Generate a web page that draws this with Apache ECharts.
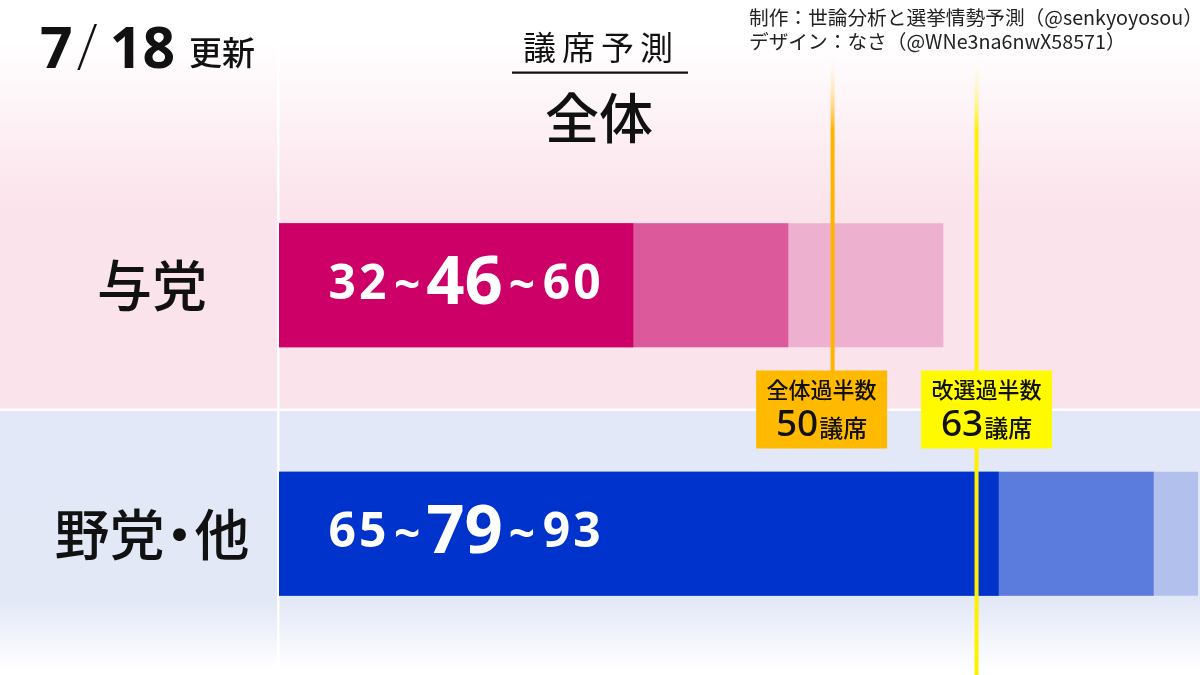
<!DOCTYPE html>
<html>
<head>
<meta charset="utf-8">
<script src="https://cdn.jsdelivr.net/npm/echarts@6/dist/echarts.min.js"></script>
<style>
html,body{margin:0;padding:0;background:#fff;}
#chart{width:1200px;height:675px;}
</style>
</head>
<body>
<div id="chart"></div>
<script>
// ---- data ----
const categories = ['与党', '野党・他'];
const lowSeats = [32, 65];
const midSeats = [46, 79];
const highSeats = [60, 93];
const thresholds = [50, 63];
const thresholdNames = ['全体過半数', '改選過半数'];
const thresholdUnit = '議席';
const updateDate = ['7', '18'];

// ---- styles ----
const darkColors = ['#CC0066', '#0033CC'];
const midColors = ['#DC5A9B', '#5B7BDD'];
const lightColors = ['#EDB0CF', '#B2C0EE'];
const lineColors = ['#FFB400', '#FFF000'];
const boxColors = ['#FFBA00', '#FFFA00'];
const boxOffsets = [-11, 10];
const lineBottoms = [371, 675];
const JP = '"Noto Sans CJK JP", "Noto Sans", sans-serif';
const NUM = '"Noto Sans", "Noto Sans CJK JP", sans-serif';

const chart = echarts.init(document.getElementById('chart'));

function spaced(str, style) {
  return str.split('').map(c => '{' + style + '|' + c + '}').join('');
}

function barLabel(p) {
  const i = p.dataIndex;
  return spaced(String(lowSeats[i]), 's') + '{t|~}' +
         spaced(String(midSeats[i]), 'b') + '{t|~}' +
         spaced(String(highSeats[i]), 's');
}

function catLabel(v) {
  return v.split('').map(c => c === '・' ? '{dot|・}' : '{c|' + c + '}').join('');
}

const bgElements = [
  { type: 'rect', z: -10, shape: { x: 0, y: 0, width: 1200, height: 410 },
    style: { fill: { type: 'linear', x: 0, y: 0, x2: 0, y2: 1,
      colorStops: [{ offset: 0, color: '#ffffff' }, { offset: 0.1, color: '#ffffff' },
                   { offset: 0.5, color: '#FBE3EC' }, { offset: 1, color: '#FBE3EC' }] } } },
  { type: 'rect', z: -10, shape: { x: 0, y: 410, width: 1200, height: 265 },
    style: { fill: { type: 'linear', x: 0, y: 0, x2: 0, y2: 1,
      colorStops: [{ offset: 0, color: '#E2E8F7' }, { offset: 0.72, color: '#E3E8F7' },
                   { offset: 0.98, color: '#ffffff' }, { offset: 1, color: '#ffffff' }] } } },
  { type: 'rect', z: -9, shape: { x: 0, y: 408.5, width: 1200, height: 2.5 }, style: { fill: '#ffffff' } },
  { type: 'rect', z: -9, shape: { x: 277, y: 0, width: 2.5, height: 675 }, style: { fill: '#ffffff' } },
  // date
  { type: 'text', z: 20, style: {
      x: 40, y: 52, verticalAlign: 'middle',
      text: '{d|' + updateDate[0] + '}{sl|/}{d|' + updateDate[1] + '}{u|更新}',
      rich: {
        d: { fontFamily: NUM, fontSize: 57, fontWeight: 700, fill: '#111' },
        sl: { fontFamily: NUM, fontSize: 64, fontWeight: 200, fill: '#111', padding: [0, 12, 0, 4] },
        u: { fontFamily: JP, fontSize: 33, fontWeight: 500, fill: '#111', padding: [0, 0, 0, 14] }
      } } },
  // header
  { type: 'text', z: 20, style: {
      x: 598, y: 47, align: 'center', verticalAlign: 'middle',
      text: spaced('議席予測', 'h'),
      rich: { h: { fontFamily: JP, fontSize: 33, fontWeight: 400, fill: '#111', padding: [0, 3] } } } },
  { type: 'rect', z: 20, shape: { x: 512, y: 71.5, width: 176, height: 2.2 }, style: { fill: '#111' } },
  { type: 'text', z: 20, style: {
      x: 599, y: 118, align: 'center', verticalAlign: 'middle',
      text: '全体', fontFamily: JP, fontSize: 54, fontWeight: 500, fill: '#111' } },
  // credits
  { type: 'text', z: 20, style: {
      x: 749, y: 18, verticalAlign: 'middle',
      text: '制作：世論分析と選挙情勢予測（@senkyoyosou）', fontFamily: JP, fontSize: 19.7, fill: '#222' } },
  { type: 'text', z: 20, style: {
      x: 749, y: 42, verticalAlign: 'middle',
      text: 'デザイン：なさ（@WNe3na6nwX58571）', fontFamily: JP, fontSize: 19.7, fill: '#222' } }
];

function barSeries(name, values, colors, z, withLabel) {
  return {
    type: 'bar', name: name, data: values, barWidth: 124, barGap: '-100%', z: z,
    clip: true, silent: true,
    itemStyle: { color: p => colors[p.dataIndex] },
    label: withLabel ? {
      show: true, position: 'insideLeft', distance: 48,
      formatter: barLabel,
      rich: {
        s: { fontFamily: NUM, fontSize: 48, fontWeight: 700, color: '#fff', padding: [0, 1.5] },
        b: { fontFamily: NUM, fontSize: 67, fontWeight: 700, color: '#fff', padding: [0, 0] },
        t: { fontFamily: NUM, fontSize: 46, fontWeight: 700, color: '#fff', padding: [6, 6, 0, 6] }
      }
    } : { show: false }
  };
}

function renderThreshold(params, api) {
  const i = params.dataIndex;
  const v = api.value(0);
  const x = api.coord([v, 0])[0];
  const yA = api.coord([v, 0])[1];
  const yB = api.coord([v, 1])[1];
  const mid = (yA + yB) / 2;
  const top = 50;
  const bottom = lineBottoms[i];
  const bx = x + boxOffsets[i];
  return {
    type: 'group',
    children: [
      { type: 'rect', shape: { x: x - 2, y: top, width: 4, height: bottom - top },
        style: { fill: { type: 'linear', x: 0, y: 0, x2: 0, y2: 1,
          colorStops: [{ offset: 0, color: 'rgba(255,255,255,0)' },
                       { offset: 80 / (bottom - top), color: lineColors[i] },
                       { offset: 1, color: lineColors[i] }] } } },
      { type: 'rect', shape: { x: bx - 65.5, y: mid - 39, width: 131, height: 78 },
        style: { fill: boxColors[i] } },
      { type: 'text', style: {
          x: bx, y: mid - 20, align: 'center', verticalAlign: 'middle',
          text: thresholdNames[i], fontFamily: JP, fontSize: 22, fontWeight: 500, fill: '#111' } },
      { type: 'text', style: {
          x: bx, y: mid + 16, align: 'center', verticalAlign: 'middle',
          text: '{n|' + v + '}{u|' + thresholdUnit + '}',
          rich: {
            n: { fontFamily: NUM, fontSize: 37, fontWeight: 500, fill: '#111' },
            u: { fontFamily: JP, fontSize: 24, fontWeight: 500, fill: '#111', padding: [4, 0, 0, 1] }
          } } }
    ]
  };
}

const option = {
  animation: false,
  backgroundColor: '#ffffff',
  graphic: { elements: bgElements },
  grid: { left: 279, right: 2, top: 161, bottom: 17, containLabel: false },
  xAxis: { type: 'value', min: 0, max: 83, show: false, splitLine: { show: false } },
  yAxis: {
    type: 'category', data: categories, inverse: true,
    axisLine: { show: false }, axisTick: { show: false }, splitLine: { show: false },
    axisLabel: { show: true, margin: 127, align: 'center', color: '#111',
      formatter: catLabel,
      rich: {
        c: { fontFamily: JP, fontSize: 55, fontWeight: 500, color: '#111' },
        dot: { fontFamily: JP, fontSize: 55, fontWeight: 500, color: '#111', width: 30, align: 'center' }
      } }
  },
  series: [
    barSeries('high', highSeats, lightColors, 2, false),
    barSeries('mid', midSeats, midColors, 3, false),
    barSeries('low', lowSeats, darkColors, 4, true),
    {
      type: 'custom', name: 'thresholds', z: 10, silent: true, clip: false,
      data: thresholds.map(t => [t, 0]),
      encode: { x: 0, y: 1 },
      renderItem: renderThreshold
    }
  ]
};
chart.setOption(option);
</script>
</body>
</html>
